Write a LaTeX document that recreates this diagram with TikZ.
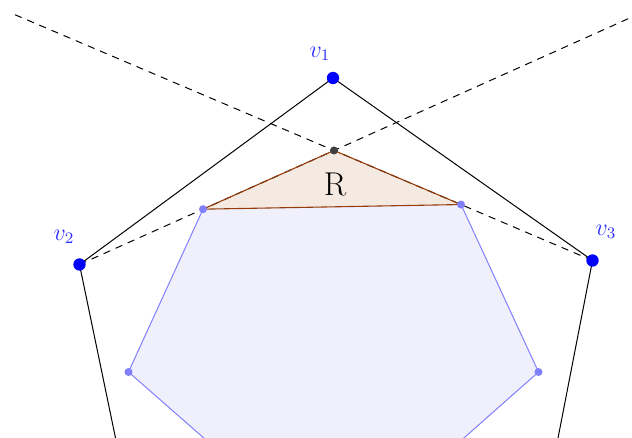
\documentclass[tikz,border=0pt]{standalone}
\usetikzlibrary{calc}
\definecolor{rborder}{RGB}{150,60,10}
\definecolor{rfill}{RGB}{245,234,226}
\definecolor{hborder}{RGB}{128,128,255}
\definecolor{hfill}{RGB}{240,240,253}
\definecolor{lblue}{RGB}{45,45,255}
\definecolor{pgray}{RGB}{64,64,64}
\tikzset{
  vdot/.style={circle,fill=blue,inner sep=0pt,minimum size=6.2pt},
  hdot/.style={circle,fill=hborder,inner sep=0pt,minimum size=4pt},
  pdot/.style={circle,fill=pgray,inner sep=0pt,minimum size=4pt},
  vlabel/.style={text=lblue,inner sep=0pt,font=\fontsize{12}{14}\selectfont},
  edge/.style={black,line width=0.5pt},
  guide/.style={black,line width=0.5pt,dash pattern=on 3.6pt off 3pt},
}
\begin{document}
\begin{tikzpicture}[x=0.5pt,y=-0.5pt]
\useasboundingbox (0,0) rectangle (632,438);
\clip (0,0) rectangle (632,438);
% key points
\coordinate (v1) at (333,78);
\coordinate (v2) at (79.5,264.5);
\coordinate (v3) at (592.5,260.5);
\coordinate (P) at (334,150.5);
\coordinate (T1) at ($(v2)!0.4853!(P)$);
\coordinate (T2) at ($(v3)!0.5087!(P)$);
\coordinate (H3) at (538.5,372);
\coordinate (H4) at (430,468);
\coordinate (H5) at (334,520);
\coordinate (H6) at (238,468);
\coordinate (H7) at (128.5,372);
\coordinate (e2) at (118,450);
\coordinate (e3) at (555.7,450);
\coordinate (dR) at ($(v2)!2.2!(P)$);
\coordinate (dL) at ($(v3)!2.253!(P)$);
% fills
\fill[hfill] (T1) -- (T2) -- (H3) -- (H4) -- (H5) -- (H6) -- (H7) -- cycle;
\fill[rfill] (P) -- (T2) -- (T1) -- cycle;
% black outer polygon
\draw[edge] (e2) -- (v2) -- (v1) -- (v3) -- (e3);
% dashed guides
\draw[guide] (v2) -- (dR);
\draw[guide] (v3) -- (dL);
% heptagon border
\draw[hborder,line width=0.5pt] (T2) -- (H3) -- (H4) -- (H5) -- (H6) -- (H7) -- (T1);
% region R
\draw[rborder,line width=0.55pt,line join=round] (P) -- (T2) -- (T1) -- cycle;
\node[font=\fontsize{16.5}{18}\selectfont,inner sep=0pt] (R) at (335,184.5) {R};
% dots
\node[hdot] (t1) at (T1) {};
\node[hdot] (t2) at (T2) {};
\node[hdot] (h3) at (H3) {};
\node[hdot] (h7) at (H7) {};
\node[pdot] (p) at (P) {};
\node[vdot] (n1) at (v1) {};
\node[vdot] (n2) at (v2) {};
\node[vdot] (n3) at (v3) {};
% labels
\node[vlabel] (l1) at (320,54) {$v_1$};
\node[vlabel] (l2) at (64,237) {$v_2$};
\node[vlabel] (l3) at (606,232) {$v_3$};
\end{tikzpicture}
\end{document}
